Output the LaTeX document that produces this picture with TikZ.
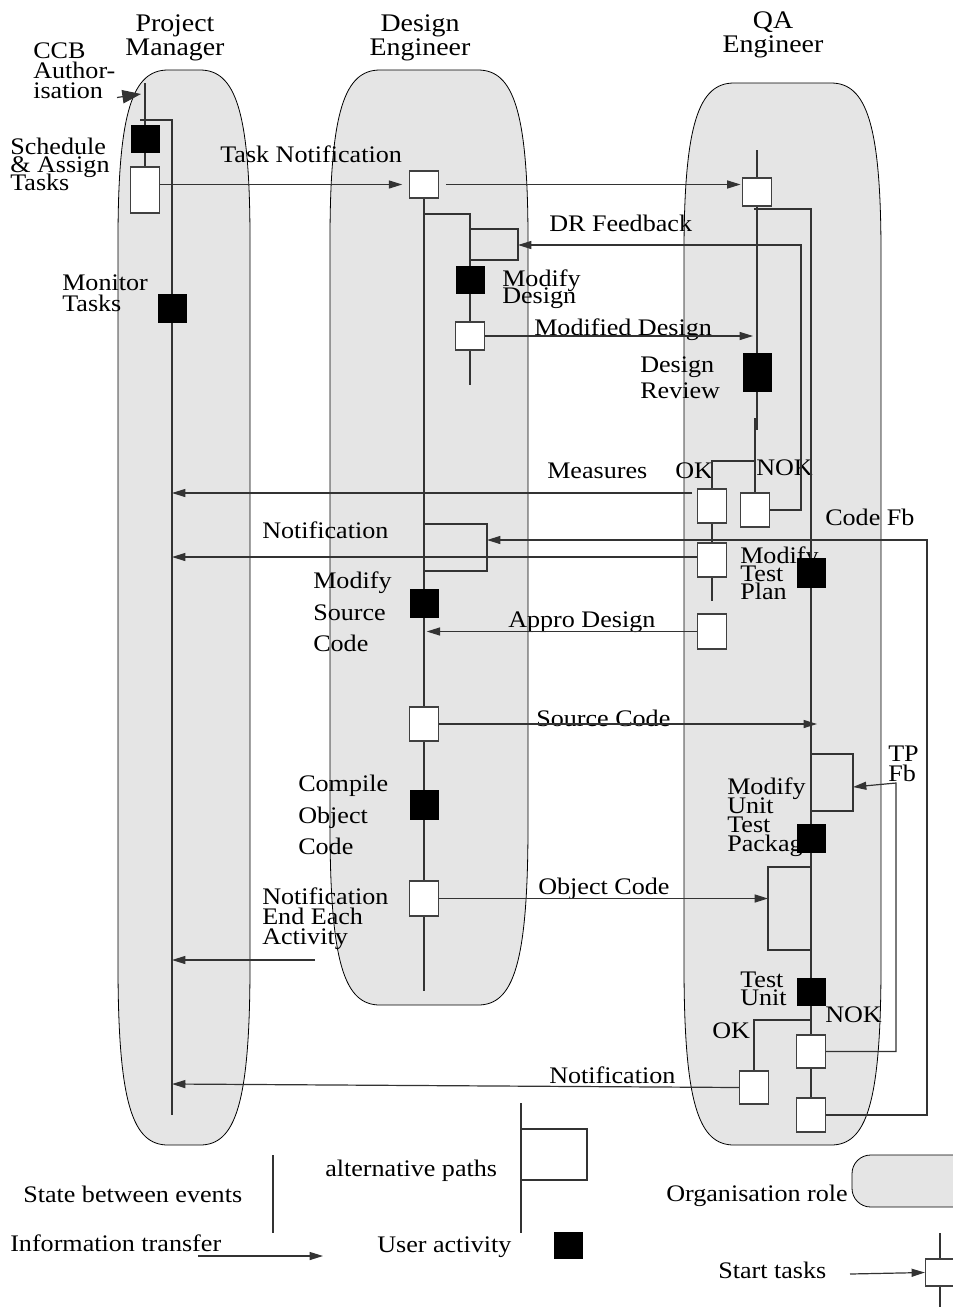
\documentclass[tikz,border=0pt]{standalone}
\usepackage{fontspec}
\setmainfont{Liberation Serif}[FakeStretch=1.1]
\usetikzlibrary{arrows.meta}
\pgfdeclarelayer{bg}
\pgfdeclarelayer{mid}
\pgfsetlayers{bg,mid,main}
\newcommand{\lanedraw}[4]{\draw[lane] (#1,#4-180) -- (#1,#3+170) .. controls (#1,#3+40) and (#1+15,#3) .. (#1+50,#3) -- (#2-50,#3) .. controls (#2-15,#3) and (#2,#3+40) .. (#2,#3+170) -- (#2,#4-180) .. controls (#2,#4-40) and (#2-15,#4) .. (#2-50,#4) -- (#1+50,#4) .. controls (#1+15,#4) and (#1,#4-40) .. cycle;}
\begin{document}
\begin{tikzpicture}[x=0.75pt,y=-0.75pt,
  lane/.style={draw=black, line width=0.6pt, fill=black!10},
  ln/.style={draw=black!80, line width=0.9pt},
  arr/.style={ln, -{Triangle[length=10pt,width=6pt]}},
  wbox/.style={draw=black!75, line width=0.9pt, fill=white, minimum width=21.75pt, inner sep=0pt},
  bbox/.style={fill=black, minimum width=21.75pt, inner sep=0pt},
  ht/.style={minimum height=#1*0.75pt},
  lbl/.style={font={\fontsize{17.8}{#1}\selectfont\lineskiplimit=-100pt}, align=left, anchor=north west, inner sep=0pt},
  lbl/.default=23pt,
  hdr/.style={font={\fontsize{19}{18pt}\selectfont\lineskiplimit=-100pt}, align=center, anchor=north, inner sep=0pt}
]
\useasboundingbox (0,0) rectangle (953,1307);

% ---------- lanes ----------
\begin{pgfonlayer}{bg}
\lanedraw{118}{250}{70}{1145}
\lanedraw{330}{528}{70}{1005}
\lanedraw{684}{881}{83}{1145}
\begin{scope}
\clip (0,0) rectangle (953,1307);
\draw[lane, rounded corners=14pt] (852,1155) rectangle (1010,1207);
\end{scope}
\end{pgfonlayer}

% ---------- boxes ----------
\node[bbox, ht=28] (pmB1) at (145,139) {};
\node[wbox, ht=46] (pmW1) at (145,190) {};
\node[bbox, ht=29] (pmB2) at (172,308.5) {};
\node[wbox, ht=27] (deW1) at (424,184.5) {};
\node[bbox, ht=28] (deB1) at (470,280) {};
\node[wbox, ht=28] (deW2) at (470,336) {};
\node[bbox, ht=29] (deB2) at (424,603.5) {};
\node[wbox, ht=34] (deW3) at (424,724) {};
\node[bbox, ht=30] (deB3) at (424,805) {};
\node[wbox, ht=35] (deW4) at (424,898.5) {};
\node[wbox, ht=28] (qaW1) at (757,192) {};
\node[bbox, ht=39] (qaB1) at (757,372.5) {};
\node[wbox, ht=34] (qaW2) at (712,506) {};
\node[wbox, ht=34] (qaW3) at (755,510) {};
\node[wbox, ht=34] (qaW4) at (712,560) {};
\node[bbox, ht=30] (qaB2) at (811,573) {};
\node[wbox, ht=35] (qaW5) at (712,631.5) {};
\node[bbox, ht=29] (qaB3) at (811,838.5) {};
\node[bbox, ht=28] (qaB4) at (811,992) {};
\node[wbox, ht=33] (qaW6) at (811,1051.5) {};
\node[wbox, ht=33] (qaW7) at (754,1087.5) {};
\node[wbox, ht=34] (qaW8) at (811,1115) {};
\node[bbox, ht=27] (lgB) at (568,1245.5) {};
\node[wbox, ht=27] (lgW) at (940,1272.5) {};

\begin{pgfonlayer}{mid}
% ---------- headers ----------
\node[hdr] (hPM) at (175,14) {Project\\Manager};
\node[hdr] (hDE) at (420,14) {Design\\Engineer};
\node[hdr] (hQA) at (773,11) {QA\\Engineer};

% ---------- labels ----------
\node[lbl=15pt] (tCCB) at (33,43) {CCB\\Author-\\isation};
\node[lbl=13.5pt] (tSch) at (10,138) {Schedule\\\& Assign\\Tasks};
\node[lbl=15.75pt] (tMon) at (62,275) {Monitor\\Tasks};
\node[lbl] (tTN) at (220,146) {Task Notification};
\node[lbl] (tDR) at (549,215) {DR Feedback};
\node[lbl=12.75pt] (tMD) at (502,270) {Modify\\Design};
\node[lbl] (tMdD) at (534,319) {Modified Design};
\node[lbl=19.5pt] (tDRv) at (640,357) {Design\\Review};
\node[lbl] (tMs) at (547,463) {Measures};
\node[lbl] (tOK1) at (675,463) {OK};
\node[lbl] (tNOK1) at (756,460) {NOK};
\node[lbl] (tCF) at (825,509) {Code Fb};
\node[lbl] (tNt1) at (262,522) {Notification};
\node[lbl=13.5pt] (tMTP) at (740,547) {Modify\\Test\\Plan};
\node[lbl=23.6pt] (tMSC) at (313,572) {Modify\\Source\\Code};
\node[lbl] (tAD) at (508,612) {Appro Design};
\node[lbl] (tSC) at (536,710) {Source Code};
\node[lbl=15pt] (tTP) at (888,746) {TP\\Fb};
\node[lbl=14.25pt] (tMUT) at (727,778) {Modify\\Unit\\Test\\Package};
\node[lbl=23.6pt] (tCOC) at (298,775) {Compile\\Object\\Code};
\node[lbl=15pt] (tNEA) at (262,888) {Notification\\End Each\\Activity};
\node[lbl] (tOC) at (538,878) {Object Code};
\node[lbl=13.5pt] (tTU) at (740,972) {Test\\Unit};
\node[lbl] (tOK2) at (712,1023) {OK};
\node[lbl] (tNOK2) at (825,1007) {NOK};
\node[lbl] (tNt2) at (549,1067) {Notification};
\node[lbl] (lS) at (23,1186) {State between events};
\node[lbl] (lI) at (10,1235) {Information transfer};
\node[lbl] (lA) at (325,1160) {alternative paths};
\node[lbl] (lU) at (377,1237) {User activity};
\node[lbl] (lO) at (666,1185) {Organisation role};
\node[lbl] (lSt) at (718,1262) {Start tasks};

% ---------- coordinates ----------
\coordinate (pmTop) at (145,83);
\coordinate (ccbS) at (117,97.5);
\coordinate (ccbE) at (141,94);
\coordinate (pmBr) at (140,120);
\coordinate (pmEnd) at (172,1115);
\coordinate (deEnd) at (424,991);
\coordinate (deBr) at (424,214);
\coordinate (deE2) at (470,385);
\coordinate (drA) at (470,229);
\coordinate (drB) at (518,260);
\coordinate (drC) at (801,245);
\coordinate (mdE) at (753,336);
\coordinate (qaTop) at (757,150);
\coordinate (qaJ1) at (757,430);
\coordinate (qaJ2) at (755,418);
\coordinate (okJ) at (755,461);
\coordinate (qaE2) at (712,601);
\coordinate (qaBr) at (754,209);
\coordinate (msS) at (692,493);
\coordinate (ntS) at (697,557);
\coordinate (cfC) at (927,540);
\coordinate (cfT) at (487,540);
\coordinate (a2A) at (424,524);
\coordinate (a2B) at (487,571);
\coordinate (scE) at (817,724);
\coordinate (tpA) at (811,754);
\coordinate (tpB) at (853,811);
\coordinate (tpC) at (896,783);
\coordinate (tpT) at (853,787);
\coordinate (ocA) at (811,867);
\coordinate (ocB) at (768,950);
\coordinate (tuJ) at (811,1020);
\coordinate (n2E) at (172,1084);
\coordinate (neS) at (315,960);
\coordinate (lgS1) at (273,1155);
\coordinate (lgS2) at (273,1233);
\coordinate (lgI1) at (198,1256);
\coordinate (lgI2) at (323,1256);
\coordinate (lgA1) at (521,1103);
\coordinate (lgA2) at (521,1233);
\coordinate (lgR1) at (521,1129);
\coordinate (lgR2) at (587,1180);
\coordinate (stS) at (850,1274);
\coordinate (stT) at (940,1233);
\coordinate (stB) at (940,1307);

% ---------- Project Manager ----------
\draw[ln, -{Triangle[length=14pt,width=10pt]}] (ccbS) -- (ccbE);
\draw[ln] (pmTop) -- (pmB1.north);
\draw[ln] (pmB1.south) -- (pmW1.north);
\draw[ln] (pmBr) -| (pmEnd);
\draw[arr, shorten >=5pt] (pmW1.east |- deW1.west) -- (deW1.west);

% ---------- Design Engineer ----------
\draw[arr, shorten <=5pt, shorten >=1pt] (deW1.east) -- (deW1.east -| qaW1.west);
\draw[ln] (deW1.south) -- (deEnd);
\draw[ln] (deBr) -| (deB1.north);
\draw[ln] (deB1.south) -- (deW2.north);
\draw[ln] (deW2.south) -- (deE2);
\draw[ln] (drA) -| (drB) -- (drB -| drA);
\draw[arr] (qaW3.east) -| (drC) -- (drC -| drB);
\draw[arr] (deW2.east) -- (mdE);
\draw[ln] (a2A) -| (a2B) -- (a2B -| a2A);
\draw[arr, shorten >=2pt] (qaW5.west) -- (qaW5.west -| deEnd);
\draw[arr] (deW3.east) -- (scE);
\draw[arr] (deW4.east) -- (deW4.east -| ocB);
\draw[arr] (neS) -- (neS -| pmEnd);

% ---------- QA Engineer ----------
\draw[ln] (qaTop) -- (qaW1.north);
\draw[ln] (qaW1.south) -- (qaB1.north);
\draw[ln] (qaB1.south) -- (qaJ1);
\draw[ln] (qaJ2) -- (qaW3.north);
\draw[ln] (okJ) -| (qaW2.north);
\draw[ln] (qaW2.south) -- (qaW4.north);
\draw[ln] (qaW4.south) -- (qaE2);
\draw[ln] (qaBr) -| (qaW8.north);
\draw[arr] (msS) -- (msS -| pmEnd);
\draw[arr] (ntS) -- (ntS -| pmEnd);
\draw[arr] (qaW8.east) -| (cfC) -- (cfT);
\draw[ln] (tpA) -| (tpB) -- (tpB -| tpA);
\draw[arr] (qaW6.east) -| (tpC) -- (tpT);
\draw[ln] (ocA) -| (ocB) -- (ocB -| ocA);
\draw[ln] (tuJ) -| (qaW7.north);
\draw[arr] (qaW7.west) -- (n2E);

% ---------- legend ----------
\draw[ln] (lgS1) -- (lgS2);
\draw[arr] (lgI1) -- (lgI2);
\draw[ln] (lgA1) -- (lgA2);
\draw[ln] (lgR1) -| (lgR2) -- (lgR2 -| lgR1);
\draw[arr] (stS) -- (lgW.west);
\draw[ln] (stT) -- (lgW.north);
\draw[ln] (lgW.south) -- (stB);
\end{pgfonlayer}
\end{tikzpicture}
\end{document}
